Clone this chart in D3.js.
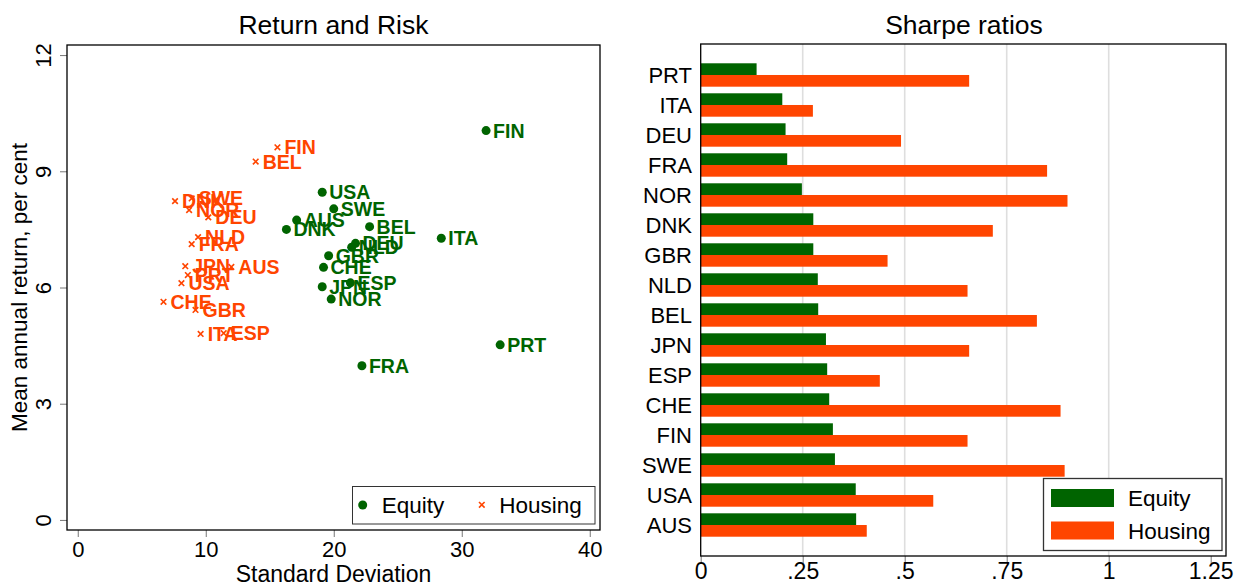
<!DOCTYPE html>
<html>
<head>
<meta charset="utf-8">
<script src="https://cdn.jsdelivr.net/npm/d3@7"></script>
<style>
  body { margin: 0; background: #fff; }
  svg { display: block; font-family: "Liberation Sans", Arial, sans-serif; }
</style>
</head>
<body>
<script>
const [W, H] = [1236, 582];

// country codes, same order for both panels
const countries = ['PRT', 'ITA', 'DEU', 'FRA', 'NOR', 'DNK', 'GBR', 'NLD', 'BEL', 'JPN', 'ESP', 'CHE', 'FIN', 'SWE', 'USA', 'AUS'];

// return and risk: standard deviation / mean annual return (per cent)
const equitySD     = [33.0, 28.4, 21.7, 22.2, 19.8, 16.3, 19.6, 21.4, 22.8, 19.1, 21.3, 19.2, 31.9, 20.0, 19.1, 17.1];
const equityMean   = [4.52, 7.27, 7.14, 3.98, 5.70, 7.50, 6.82, 7.04, 7.57, 6.02, 6.12, 6.52, 10.05, 8.03, 8.46, 7.74];
const housingSD    = [8.6, 9.6, 10.2, 8.9, 8.7, 7.6, 9.2, 9.4, 13.9, 8.4, 11.4, 6.7, 15.6, 8.9, 8.1, 12.0];
const housingMean  = [6.32, 4.80, 7.81, 7.12, 8.00, 8.23, 5.42, 7.30, 9.25, 6.55, 4.82, 5.63, 9.62, 8.30, 6.11, 6.53];

// sharpe ratios
const equitySharpe  = [0.137, 0.200, 0.208, 0.212, 0.248, 0.276, 0.276, 0.287, 0.288, 0.307, 0.310, 0.315, 0.324, 0.329, 0.380, 0.381];
const housingSharpe = [0.658, 0.275, 0.491, 0.849, 0.899, 0.716, 0.458, 0.654, 0.824, 0.658, 0.439, 0.882, 0.654, 0.892, 0.570, 0.407];

const scatterXTicks = [0, 10, 20, 30, 40];
const scatterYTicks = [0, 3, 6, 9, 12];
const sharpeTicks = [0, 0.25, 0.5, 0.75, 1, 1.25];
const sharpeTickLabels = ['0', '.25', '.5', '.75', '1', '1.25'];
const series = ['Equity', 'Housing'];

const GREEN = '#006400', ORANGE = '#ff4500';

function main() {
    const svg = d3.select('body').append('svg').attr('width', W).attr('height', H);

    // ---------- left panel: return and risk ----------
    const L = { left: 67, right: 600, top: 45, bottom: 530 };
    const xS = d3.scaleLinear().domain([-0.84, 40.8]).range([L.left, L.right]);
    const yS = d3.scaleLinear().domain([-0.26, 12.26]).range([L.bottom, L.top]);

    svg.append('text')
        .attr('x', (L.left + L.right) / 2).attr('y', 34)
        .attr('text-anchor', 'middle').style('font-size', '26.5px')
        .text('Return and Risk');

    const xAxis = svg.append('g')
        .attr('transform', 'translate(0,' + L.bottom + ')')
        .call(d3.axisBottom(xS).tickValues(scatterXTicks).tickSize(7).tickPadding(4));
    xAxis.select('.domain').remove();
    xAxis.selectAll('line').attr('stroke', '#777');
    xAxis.selectAll('text').style('font-size', '22px').attr('fill', '#000');

    const yAxis = svg.append('g')
        .attr('transform', 'translate(' + L.left + ',0)')
        .call(d3.axisLeft(yS).tickValues(scatterYTicks).tickSize(7));
    yAxis.select('.domain').remove();
    yAxis.selectAll('line').attr('stroke', '#777');
    yAxis.selectAll('text')
        .attr('x', null).attr('dy', null).attr('text-anchor', 'middle')
        .attr('transform', 'translate(-16,0) rotate(-90)')
        .style('font-size', '22px').attr('fill', '#000');

    svg.append('text')
        .attr('transform', 'translate(27,' + (L.top + L.bottom) / 2 + ') rotate(-90)')
        .attr('text-anchor', 'middle').style('font-size', '22.5px')
        .text('Mean annual return, per cent');

    svg.append('text')
        .attr('x', (L.left + L.right) / 2).attr('y', 582)
        .attr('text-anchor', 'middle').style('font-size', '23px')
        .text('Standard Deviation');

    svg.append('rect')
        .attr('x', L.left).attr('y', L.top)
        .attr('width', L.right - L.left).attr('height', L.bottom - L.top)
        .attr('fill', 'none').attr('stroke', '#000').attr('stroke-width', 1.3);

    const eq = countries.map((c, i) => ({ c, x: equitySD[i], y: equityMean[i] }));
    const ho = countries.map((c, i) => ({ c, x: housingSD[i], y: housingMean[i] }));

    svg.append('g').selectAll('circle').data(eq).enter()
        .append('circle')
        .attr('cx', d => xS(d.x)).attr('cy', d => yS(d.y))
        .attr('r', 4.5).attr('fill', GREEN);

    svg.append('g').selectAll('path').data(ho).enter()
        .append('path')
        .attr('d', d => {
            const x = xS(d.x), y = yS(d.y), s = 2.8;
            return `M${x - s},${y - s}L${x + s},${y + s}M${x - s},${y + s}L${x + s},${y - s}`;
        })
        .attr('stroke', ORANGE).attr('stroke-width', 1.6);

    svg.append('g').selectAll('text').data(ho).enter()
        .append('text')
        .attr('x', d => xS(d.x) + 7).attr('y', d => yS(d.y)).attr('dy', '0.36em')
        .attr('fill', ORANGE).style('font-size', '19.5px').style('font-weight', 'bold')
        .text(d => d.c);

    svg.append('g').selectAll('text').data(eq).enter()
        .append('text')
        .attr('x', d => xS(d.x) + 7).attr('y', d => yS(d.y)).attr('dy', '0.36em')
        .attr('fill', GREEN).style('font-size', '19.5px').style('font-weight', 'bold')
        .text(d => d.c);

    // legend
    const lg = svg.append('g');
    lg.append('rect').attr('x', 352.5).attr('y', 486.5).attr('width', 242.5).attr('height', 37.5)
        .attr('fill', '#fff').attr('stroke', '#333').attr('stroke-width', 1);
    lg.append('circle').attr('cx', 362.7).attr('cy', 505).attr('r', 4.5).attr('fill', GREEN);
    lg.append('text').attr('x', 381.7).attr('y', 513).style('font-size', '22.5px').text('Equity');
    lg.append('path')
        .attr('d', 'M479,502L484.6,507.6M479,507.6L484.6,502')
        .attr('stroke', ORANGE).attr('stroke-width', 1.6);
    lg.append('text').attr('x', 499.3).attr('y', 513).style('font-size', '22.5px').text('Housing');

    // ---------- right panel: sharpe ratios ----------
    const R = { left: 700.7, right: 1226, top: 44, bottom: 556 };
    const xR = d3.scaleLinear().domain([0, 1.25]).range([R.left, 1210.7]);
    const yR = d3.scaleBand().domain(countries).range([R.top, R.bottom])
        .paddingInner(0.22).paddingOuter(0.643);
    const yIn = d3.scaleBand().domain(series).range([0, yR.bandwidth()]);

    svg.append('text')
        .attr('x', 964).attr('y', 34)
        .attr('text-anchor', 'middle').style('font-size', '26.5px')
        .text('Sharpe ratios');

    svg.append('g').selectAll('line').data(sharpeTicks.slice(1, 5)).enter()
        .append('line')
        .attr('x1', d => xR(d)).attr('x2', d => xR(d))
        .attr('y1', R.top).attr('y2', R.bottom)
        .attr('stroke', '#dedede').attr('stroke-width', 1.6);

    const rows = countries.map((c, i) => ({ c, Equity: equitySharpe[i], Housing: housingSharpe[i] }));
    const grp = svg.append('g').selectAll('g').data(rows).enter()
        .append('g').attr('transform', d => 'translate(0,' + yR(d.c) + ')');
    grp.selectAll('rect')
        .data(d => series.map(s => ({ s, v: d[s] })))
        .enter().append('rect')
        .attr('x', xR(0)).attr('y', d => yIn(d.s))
        .attr('width', d => xR(d.v) - xR(0)).attr('height', yIn.bandwidth())
        .attr('fill', d => d.s === 'Equity' ? GREEN : ORANGE);

    svg.append('g').selectAll('text').data(countries).enter()
        .append('text')
        .attr('x', 692).attr('y', d => yR(d) + yR.bandwidth() / 2).attr('dy', '0.36em')
        .attr('text-anchor', 'end').style('font-size', '22px')
        .text(d => d);

    const xRAxis = svg.append('g')
        .attr('transform', 'translate(0,' + R.bottom + ')')
        .call(d3.axisBottom(xR).tickValues(sharpeTicks)
            .tickFormat((d, i) => sharpeTickLabels[i]).tickSize(7).tickPadding(0));
    xRAxis.select('.domain').remove();
    xRAxis.selectAll('line').attr('stroke', '#777');
    xRAxis.selectAll('text').style('font-size', '23px').attr('fill', '#000');

    svg.append('rect')
        .attr('x', R.left).attr('y', R.top)
        .attr('width', R.right - R.left).attr('height', R.bottom - R.top)
        .attr('fill', 'none').attr('stroke', '#000').attr('stroke-width', 1.3);

    // legend
    const rl = svg.append('g');
    rl.append('rect').attr('x', 1043.5).attr('y', 478.5).attr('width', 178.5).attr('height', 72)
        .attr('fill', '#fff').attr('stroke', '#333').attr('stroke-width', 1.3);
    series.forEach((s, i) => {
        rl.append('rect').attr('x', 1051).attr('y', 489 + i * 32.5).attr('width', 63).attr('height', 18)
            .attr('fill', s === 'Equity' ? GREEN : ORANGE);
        rl.append('text').attr('x', 1128).attr('y', 498 + i * 32.5).attr('dy', '0.36em')
            .style('font-size', '22.5px').text(s);
    });
}

document.addEventListener('DOMContentLoaded', main);
</script>
</body>
</html>
